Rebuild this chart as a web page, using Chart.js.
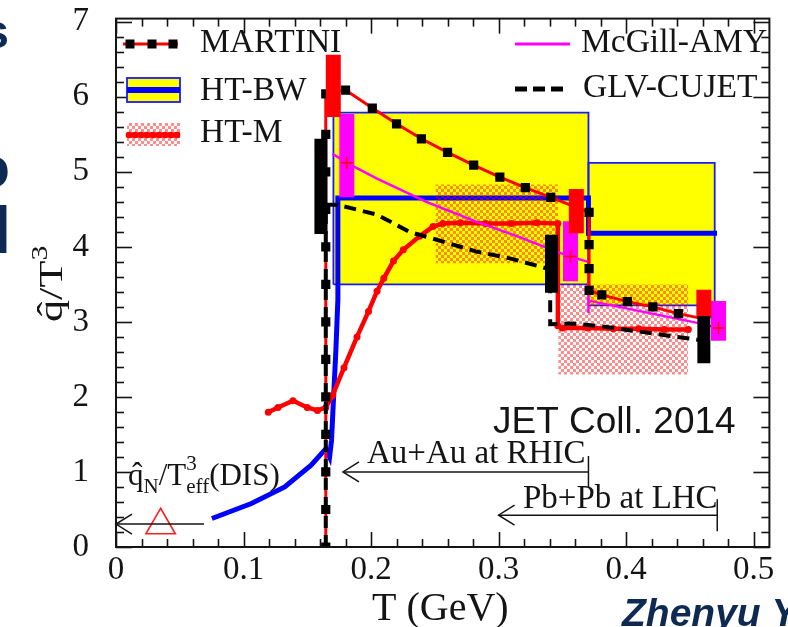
<!DOCTYPE html>
<html>
<head>
<meta charset="utf-8">
<title>qhat/T^3 versus T</title>
<script src="https://cdn.jsdelivr.net/npm/chart.js@4.4.1/dist/chart.umd.min.js"></script>
<style>
  html, body { margin: 0; padding: 0; background: #ffffff; }
  canvas { display: block; }
</style>
</head>
<body>
<canvas id="chart" width="788" height="627"></canvas>
<script>
// ---- axis ticks ----
const xTicks = [0, 0.1, 0.2, 0.3, 0.4, 0.5];
const yTicks = [0, 1, 2, 3, 4, 5, 6, 7];

// ---- MARTINI (red line, black squares) ----
const martiniT = [0.1645, 0.1645, 0.1645, 0.1645, 0.1645, 0.1645, 0.1645, 0.1645, 0.1645, 0.1645, 0.1645, 0.1645, 0.1645,
                  0.180, 0.201, 0.220, 0.2395, 0.260, 0.2805, 0.301, 0.321, 0.341, 0.371, 0.371, 0.371, 0.371,
                  0.381, 0.401, 0.421, 0.441, 0.461];
const martiniQ = [0.0, 0.5, 1.0, 1.5, 2.0, 2.5, 3.0, 3.5, 4.0, 4.5, 5.0, 5.5, 6.04,
                  6.09, 5.85, 5.64, 5.44, 5.26, 5.09, 4.93, 4.79, 4.66, 4.46, 4.03, 3.71, 3.42,
                  3.36, 3.27, 3.20, 3.11, 3.04];

// ---- GLV-CUJET (black dashed) ----
const glvT = [0.1645, 0.1645, 0.1736, 0.2047, 0.230, 0.2566, 0.282, 0.308, 0.334, 0.3405, 0.3405,
              0.357, 0.381, 0.398, 0.424, 0.440, 0.453, 0.461];
const glvQ = [0.0, 4.56, 4.56, 4.43, 4.20, 4.07, 3.94, 3.85, 3.73, 3.70, 2.97,
              2.98, 2.94, 2.90, 2.84, 2.80, 2.77, 2.75];

// ---- HT-M (red beaded line) ----
const htmT = [0.1194, 0.127, 0.1388, 0.150, 0.158, 0.1646, 0.1698, 0.1788, 0.189, 0.198, 0.2047, 0.210,
              0.2176, 0.2253, 0.238, 0.2486, 0.2563, 0.270, 0.290, 0.310, 0.330, 0.3465, 0.3465,
              0.350, 0.370, 0.390, 0.410, 0.430, 0.4488];
const htmQ = [1.795, 1.86, 1.95, 1.86, 1.82, 1.86, 2.02, 2.39, 2.80, 3.14, 3.41, 3.58,
              3.81, 3.96, 4.14, 4.27, 4.31, 4.32, 4.31, 4.31, 4.32, 4.31, 2.95,
              2.92, 2.92, 2.91, 2.91, 2.90, 2.90];
// HT-M bands: T range and qhat range
const htmBandT0 = [0.2506, 0.3468];
const htmBandT1 = [0.3468, 0.4488];
const htmBandLow = [3.78, 2.30];
const htmBandHigh = [4.83, 3.50];

// ---- HT-BW (blue curve, yellow boxes) ----
const bwT = [0.0752, 0.1062, 0.1323, 0.1530, 0.1646, 0.1675, 0.1690, 0.1705, 0.1724, 0.1740, 0.1740,
             0.3705, 0.3705, 0.4713];
const bwQ = [0.38, 0.58, 0.80, 1.09, 1.31, 1.20, 1.42, 1.95, 2.61, 3.30, 4.65,
             4.65, 4.18, 4.18];
const bwBoxT0 = [0.1705, 0.3705];
const bwBoxT1 = [0.3705, 0.4695];
const bwBoxLow = [3.50, 3.22];
const bwBoxHigh = [5.79, 5.12];

// ---- McGill-AMY (magenta) ----
const amyRhicT = [0.1698, 0.181, 0.2047, 0.2434, 0.282, 0.318, 0.339, 0.356, 0.3705, 0.3705];
const amyRhicQ = [5.24, 5.12, 4.91, 4.60, 4.34, 4.12, 3.98, 3.87, 3.80, 3.12];
const amyLhcT = [0.3715, 0.406, 0.455, 0.4716];
const amyLhcQ = [3.28, 3.16, 2.99, 2.92];

// ---- extracted values with uncertainty (thick bars) ----
const redBarT = [0.1704, 0.3610, 0.4610];
const redBarLow = [5.73, 4.18, 3.05];
const redBarHigh = [6.56, 4.77, 3.43];
const magentaBarT = [0.1810, 0.3564, 0.4725];
const magentaBarLow = [4.66, 3.54, 2.75];
const magentaBarHigh = [5.77, 4.34, 3.28];
const magentaCentre = [5.12, 3.87, 2.92];
const blackBarT = [0.1607, 0.3415, 0.4610];
const blackBarLow = [4.17, 3.39, 2.45];
const blackBarHigh = [5.44, 4.16, 3.08];

// ---- DIS point and range arrows ----
const disT = [0.035];
const disQ = [0.29];
const arrowFromT = [0.069, 0.3705, 0.4715];
const arrowToT = [0.0, 0.178, 0.300];
const arrowQ = [0.305, 1.00, 0.424];
const arrowEndBar = [false, true, true];

// ---------------------------------------------------------------
const SERIF = '"Liberation Serif", "Times New Roman", serif';
const SANS = '"Liberation Sans", Arial, sans-serif';
const INK = '#141414';
const NAVY = '#0e2a52';

const pts = (xs, ys) => xs.map((x, i) => ({ x, y: ys[i] }));
const bars = (xs, lo, hi) => xs.flatMap((x, i) => [{ x, y: lo[i] }, { x, y: hi[i] }, { x, y: null }]);
const rect = (x0, x1, lo, hi) => [{ x: x0, y: lo }, { x: x0, y: hi }, { x: x1, y: hi }, { x: x1, y: lo }, { x: x0, y: lo }];

const canvas = document.getElementById('chart');
const mainCtx = canvas.getContext('2d');

// checkered red hatch used for the HT-M bands
function makeHatch() {
  const c = document.createElement('canvas');
  c.width = 6; c.height = 6;
  const g = c.getContext('2d');
  g.fillStyle = 'rgba(255,0,0,0.45)';
  g.fillRect(0, 0, 3, 3);
  g.fillRect(3, 3, 3, 3);
  return mainCtx.createPattern(c, 'repeat');
}
const hatch = makeHatch();

const noPts = { pointRadius: 0, pointHoverRadius: 0 };
let order = 0;
const datasets = [];
function add(ds) { datasets.push(Object.assign({ tension: 0, fill: false }, noPts, ds)); }

// top-most first
add({ label: 'DIS', data: pts(disT, disQ), showLine: false, pointStyle: 'triangle', pointRadius: 17,
      pointBorderColor: '#ff2020', pointBackgroundColor: 'rgba(0,0,0,0)', pointBorderWidth: 1.6, order: order++ });
add({ label: 'centre', data: pts(magentaBarT, magentaCentre), showLine: false, pointStyle: 'cross', pointRadius: 6,
      pointBorderColor: '#ff0000', pointBorderWidth: 1.5, order: order++ });
add({ label: 'black bars', data: bars(blackBarT, blackBarLow, blackBarHigh), borderColor: '#000000', borderWidth: 13,
      borderCapStyle: 'butt', order: order++ });
add({ label: 'red bars', data: bars(redBarT, redBarLow, redBarHigh), borderColor: '#ff0000', borderWidth: 15,
      borderCapStyle: 'butt', order: order++ });
add({ label: 'magenta bars', data: bars(magentaBarT, magentaBarLow, magentaBarHigh), borderColor: '#ff00ff', borderWidth: 15,
      borderCapStyle: 'butt', order: order++ });
add({ label: 'GLV-CUJET', data: pts(glvT, glvQ), borderColor: '#000000', borderWidth: 4, borderDash: [12, 7], order: order++ });
add({ label: 'MARTINI', data: pts(martiniT, martiniQ), borderColor: '#ff0000', borderWidth: 3,
      pointStyle: 'rect', pointRadius: 6.5, pointBackgroundColor: '#000000', pointBorderColor: '#000000', pointBorderWidth: 0,
      order: order++ });
add({ label: 'McGill-AMY LHC', data: pts(amyLhcT, amyLhcQ), borderColor: '#ff00ff', borderWidth: 2.5, order: order++ });
add({ label: 'McGill-AMY RHIC', data: pts(amyRhicT, amyRhicQ), borderColor: '#ff00ff', borderWidth: 2.5, order: order++ });
add({ label: 'HT-M', data: pts(htmT, htmQ), borderColor: '#ff0000', borderWidth: 4.5,
      pointRadius: 3.5, pointBackgroundColor: '#ff0000', pointBorderColor: '#ff0000', pointBorderWidth: 0, order: order++ });
htmBandT0.forEach((t0, i) => add({ label: 'HT-M band', data: pts([t0, htmBandT1[i]], [htmBandHigh[i], htmBandHigh[i]]),
      fill: { value: htmBandLow[i] }, backgroundColor: hatch, borderWidth: 0, order: order++ }));
add({ label: 'HT-BW', data: pts(bwT, bwQ), borderColor: '#0000ff', borderWidth: 5, order: order++ });
bwBoxT0.forEach((t0, i) => add({ label: 'HT-BW box', data: rect(t0, bwBoxT1[i], bwBoxLow[i], bwBoxHigh[i]),
      borderColor: '#1a1aff', borderWidth: 1.8, order: order++ }));
bwBoxT0.forEach((t0, i) => add({ label: 'HT-BW fill', data: pts([t0, bwBoxT1[i]], [bwBoxHigh[i], bwBoxHigh[i]]),
      fill: { value: bwBoxLow[i] }, backgroundColor: '#ffff00', borderWidth: 0, order: order++ }));

// ---- helpers for text ----
function richText(ctx, parts, x, y, family) {
  let cx = x;
  for (const p of parts) {
    ctx.font = `${p.size}px ${family}`;
    ctx.fillText(p.text, cx, y + (p.dy || 0));
    if (!p.hold) cx += ctx.measureText(p.text).width;
  }
}
function line(ctx, x0, y0, x1, y1) { ctx.beginPath(); ctx.moveTo(x0, y0); ctx.lineTo(x1, y1); ctx.stroke(); }

// frame, inward ticks, legend, labels and annotations
const decorations = {
  id: 'decorations',
  afterDatasetsDraw(chart) {
    const { ctx, chartArea: a, scales: { x, y } } = chart;
    ctx.save();

    // range arrows
    ctx.strokeStyle = INK; ctx.lineWidth = 1.5;
    arrowFromT.forEach((t0, i) => {
      const px0 = x.getPixelForValue(t0), px1 = x.getPixelForValue(arrowToT[i]), py = y.getPixelForValue(arrowQ[i]);
      line(ctx, px0, py, px1, py);
      ctx.beginPath();
      ctx.moveTo(px1 + 16, py - 10); ctx.lineTo(px1, py); ctx.lineTo(px1 + 16, py + 10);
      ctx.stroke();
      if (arrowEndBar[i]) line(ctx, px0, py - 16, px0, py + 16);
    });

    // inward ticks on all four sides
    ctx.strokeStyle = INK; ctx.lineWidth = 1.6;
    for (let i = 0; i * 0.02 <= x.max + 1e-9; i++) {
      const px = Math.round(x.getPixelForValue(i * 0.02)) + 0.5;
      const L = i % 5 === 0 ? 15 : 8;
      line(ctx, px, a.bottom, px, a.bottom - L);
      line(ctx, px, a.top, px, a.top + L);
    }
    for (let i = 0; i * 0.2 <= y.max + 1e-9; i++) {
      const py = Math.round(y.getPixelForValue(i * 0.2)) + 0.5;
      const L = i % 5 === 0 ? 16 : 8;
      line(ctx, a.left, py, a.left + L, py);
      line(ctx, a.right, py, a.right - L, py);
    }
    ctx.lineWidth = 2;
    ctx.strokeRect(a.left, a.top, a.right - a.left, a.bottom - a.top);

    // legend symbols
    ctx.lineWidth = 3; ctx.strokeStyle = '#ff0000';
    line(ctx, 123, 44, 178, 44);
    ctx.fillStyle = '#000';
    [130, 152, 173].forEach(cx => ctx.fillRect(cx - 4.5, 39.5, 9, 9));

    ctx.fillStyle = '#ffff00'; ctx.fillRect(127, 78, 53, 24);
    ctx.strokeStyle = '#1a1aff'; ctx.lineWidth = 1.8; ctx.strokeRect(127, 78, 53, 24);
    ctx.strokeStyle = '#0000ff'; ctx.lineWidth = 6; line(ctx, 127, 90, 180, 90);

    ctx.fillStyle = hatch; ctx.fillRect(127, 123, 53, 23);
    ctx.strokeStyle = '#ff0000'; ctx.lineWidth = 5; line(ctx, 127, 135, 180, 135);
    ctx.fillStyle = '#ff0000';
    for (let cx = 129; cx <= 178; cx += 6) { ctx.beginPath(); ctx.arc(cx, 135, 3.3, 0, Math.PI * 2); ctx.fill(); }

    ctx.strokeStyle = '#ff00ff'; ctx.lineWidth = 3; line(ctx, 515, 44, 570, 44);
    ctx.strokeStyle = '#000'; ctx.lineWidth = 5; ctx.setLineDash([12, 6]); line(ctx, 515, 89, 564, 89); ctx.setLineDash([]);

    // legend labels
    ctx.fillStyle = INK; ctx.textAlign = 'left'; ctx.textBaseline = 'alphabetic';
    ctx.font = `33.5px ${SERIF}`;
    ctx.fillText('MARTINI', 200, 52);
    ctx.fillText('HT-BW', 200, 100);
    ctx.fillText('HT-M', 200, 142);
    ctx.fillText('McGill-AMY', 581, 52);
    ctx.fillText('GLV-CUJET', 583, 97);

    // annotations
    richText(ctx, [
      { text: 'q\u0302', size: 31 }, { text: 'N', size: 21, dy: 8 }, { text: '/', size: 31 }, { text: 'T', size: 31 },
      { text: '3', size: 21, dy: -15, hold: true }, { text: 'eff', size: 21, dy: 8 }, { text: '(DIS)', size: 31 }
    ], 128, 485, SERIF);
    ctx.font = `33px ${SERIF}`;
    ctx.fillText('Au+Au at RHIC', 367, 463);
    ctx.fillText('Pb+Pb at LHC', 523, 508);
    ctx.font = `37px ${SANS}`;
    ctx.fillText('JET Coll. 2014', 493, 433);

    // axis titles
    ctx.font = `40px ${SERIF}`;
    ctx.fillText('T (GeV)', 372, 620);
    ctx.save();
    ctx.translate(62, 322);
    ctx.rotate(-Math.PI / 2);
    ctx.scale(1.3, 1);
    richText(ctx, [
      { text: 'q\u0302', size: 34 }, { text: '/', size: 34 }, { text: 'T', size: 34 }, { text: '3', size: 23, dy: -15 }
    ], 0, 0, SERIF);
    ctx.restore();

    // slide text around the figure
    ctx.fillStyle = NAVY;
    ctx.textAlign = 'right';
    ctx.font = `bold 48px ${SANS}`; ctx.fillText('s', 9, 48);
    ctx.font = `bold 58px ${SANS}`; ctx.fillText('o', 10, 187);
    ctx.font = `bold 66px ${SANS}`; ctx.fillText('l', 11, 253);
    ctx.textAlign = 'left';
    ctx.font = `italic bold 39px ${SANS}`; ctx.fillText('Zhenyu Y', 622, 626);

    ctx.restore();
  }
};

new Chart(canvas, {
  type: 'line',
  data: { datasets },
  options: {
    responsive: false,
    animation: false,
    devicePixelRatio: 1,
    events: [],
    layout: { padding: { left: 0, right: 11, top: 16, bottom: 0 } },
    plugins: { legend: { display: false }, tooltip: { enabled: false } },
    scales: {
      x: {
        type: 'linear', min: 0, max: 0.5124,
        afterBuildTicks: s => { s.ticks = xTicks.map(v => ({ value: v })); },
        afterFit: s => { s.height = 80; s.paddingLeft = 0; s.paddingRight = 0; },
        grid: { display: false, drawTicks: false }, border: { display: false },
        ticks: { font: { family: SERIF, size: 33 }, color: INK, padding: 4, maxRotation: 0, autoSkip: false,
                 callback: v => String(+v.toFixed(1)) }
      },
      y: {
        type: 'linear', min: 0, max: 7.042,
        afterBuildTicks: s => { s.ticks = yTicks.map(v => ({ value: v })); },
        afterFit: s => { s.width = 116; s.paddingTop = 0; s.paddingBottom = 0; },
        grid: { display: false, drawTicks: false }, border: { display: false },
        ticks: { font: { family: SERIF, size: 33 }, color: INK, padding: 27, autoSkip: false,
                 callback: v => String(v) }
      }
    }
  },
  plugins: [decorations]
});
</script>
</body>
</html>
